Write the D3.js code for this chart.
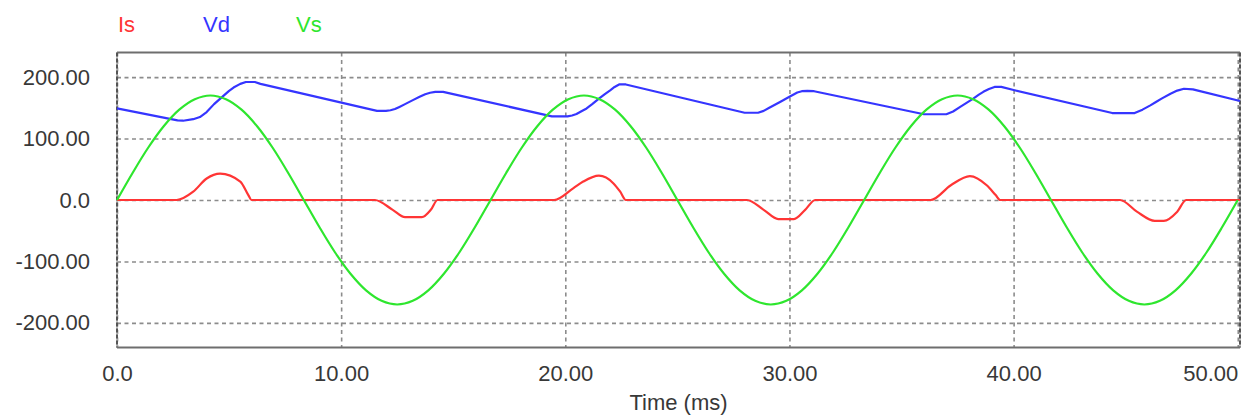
<!DOCTYPE html>
<html>
<head>
<meta charset="utf-8">
<script src="https://cdn.jsdelivr.net/npm/d3@7"></script>
<style>
    body { margin: 0; background: #fff; }
    text { font-family: "Liberation Sans", Arial, sans-serif; }
</style>
</head>
<body>
<div class="canvas"></div>
<script>
//##DATA START
const seriesNames = ['Is', 'Vd', 'Vs'];
const xTicks = [0, 10, 20, 30, 40, 50];
const xTickLabels = ['0.0', '10.00', '20.00', '30.00', '40.00', '50.00'];
const yTicks = [200, 100, 0, -100, -200];
const yTickLabels = ['200.00', '100.00', '0.0', '-100.00', '-200.00'];

// [time ms, value]
const isData = [
    [0, 0], [2.66, 0], [3.4, 13.5], [4.0, 35], [4.6, 43], [5.5, 30], [5.86, 8], [6.0, 0],
    [11.5, 0], [12.3, -16], [12.85, -28], [13.6, -28], [14.0, -16], [14.3, 0],
    [19.5, 0], [20.35, 19], [20.8, 30], [21.5, 39.5], [22.15, 27], [22.45, 13.5], [22.7, 0],
    [28.1, 0], [28.85, -16], [29.5, -31], [30.2, -31], [30.7, -16], [31.15, 0],
    [36.3, 0], [37.2, 24], [38.05, 39], [38.8, 24], [39.2, 8], [39.4, 0],
    [44.75, 0], [45.5, -19], [46.3, -34], [46.7, -34], [47.3, -19], [47.7, 0],
    [50.1, 0]
];

const vdData = [
    [0, 149], [2.7, 129.5], [2.95, 129], [3.4, 131.5], [3.7, 135], [4.0, 143], [4.33, 156],
    [4.67, 167], [5.0, 177.5], [5.2, 183], [5.5, 189], [5.75, 192], [6.15, 192], [6.4, 189],
    [11.6, 145], [12.0, 145], [12.2, 146], [12.4, 148], [12.6, 151.5], [12.85, 156], [13.2, 162.5],
    [13.5, 168], [13.75, 172], [13.97, 174.5], [14.2, 176], [14.55, 176],
    [19.4, 136], [20.1, 136], [20.3, 137.5], [20.5, 140], [20.7, 144], [20.95, 149], [21.2, 156],
    [21.5, 165], [21.75, 172], [22.0, 178.5], [22.2, 184], [22.4, 188], [22.7, 188],
    [28.0, 142], [28.6, 142], [28.85, 145], [29.1, 150], [29.35, 155], [29.6, 160], [30.0, 168],
    [30.35, 175], [30.55, 177], [30.8, 177.5], [31.1, 177],
    [36.0, 139.5], [37.0, 139.5], [37.3, 144], [37.6, 151], [37.9, 158], [38.2, 165], [38.45, 171.5],
    [38.65, 176], [38.9, 180.5], [39.15, 184], [39.45, 184], [40.0, 179],
    [44.4, 141.5], [45.4, 141.5], [45.75, 147], [46.1, 154], [46.35, 159.5], [46.6, 165],
    [47.0, 173], [47.3, 178], [47.6, 181], [48.0, 180],
    [50.1, 161]
];

// Vs sampled every 1/24 of a 60 Hz cycle
const vsStep = 0.69444;
const vsValues = [
    0, 44, 85, 120, 147, 164, 170, 164, 147, 120, 85, 44,
    0, -44, -85, -120, -147, -164, -170, -164, -147, -120, -85, -44,
    0, 44, 85, 120, 147, 164, 170, 164, 147, 120, 85, 44,
    0, -44, -85, -120, -147, -164, -170, -164, -147, -120, -85, -44,
    0, 44, 85, 120, 147, 164, 170, 164, 147, 120, 85, 44,
    0, -44, -85, -120, -147, -164, -170, -164, -147, -120, -85, -44,
    0
];
//##DATA END

const colors = { Is: '#ff3535', Vd: '#3535ff', Vs: '#2ee62e' };

let width = 1254, height = 420;
let padL = 117, padR = 1240, padT = 52.5, padB = 347.5;

const svg = d3.select('.canvas')
    .append('svg')
    .attr('width', width)
    .attr('height', height)
    ;

const xScale = d3.scaleLinear()
    .domain([0, 50.1])
    .range([padL, padR])
    ;

const yScale = d3.scaleLinear()
    .domain([-240, 240])
    .range([padB, padT])
    ;

// grid
svg.append('g')
    .attr('transform', `translate(0, ${padT})`)
    .call(d3.axisBottom(xScale).tickValues(xTicks).tickSize(padB - padT).tickFormat(''))
    .call(g => g.select('.domain').remove())
    .call(g => g.selectAll('line')
        .attr('stroke', '#8c8c8c')
        .attr('stroke-width', 1.6)
        .attr('stroke-dasharray', '4,3.5'))
    ;

svg.append('g')
    .attr('transform', `translate(${padL}, 0)`)
    .call(d3.axisRight(yScale).tickValues(yTicks).tickSize(padR - padL).tickFormat(''))
    .call(g => g.select('.domain').remove())
    .call(g => g.selectAll('line')
        .attr('stroke', '#8c8c8c')
        .attr('stroke-width', 1.6)
        .attr('stroke-dasharray', '4,3.5'))
    ;

// frame
svg.append('line').attr('x1', padL).attr('x2', padR).attr('y1', padT).attr('y2', padT)
    .attr('stroke', '#6e6e6e').attr('stroke-width', 2.2);
svg.append('line').attr('x1', padL).attr('x2', padR).attr('y1', padB).attr('y2', padB)
    .attr('stroke', '#6e6e6e').attr('stroke-width', 2.2);
[padL, padR].forEach(x => {
    svg.append('line').attr('x1', x).attr('x2', x).attr('y1', padT).attr('y2', padB)
        .attr('stroke', '#b0b0b0').attr('stroke-width', 1.5);
    svg.append('line').attr('x1', x).attr('x2', x).attr('y1', padT).attr('y2', padB)
        .attr('stroke', '#555').attr('stroke-width', 2).attr('stroke-dasharray', '4,2');
});

// axes labels
const xAxis = d3.axisBottom(xScale)
    .tickValues(xTicks)
    .tickSize(0)
    .tickPadding(17.5)
    .tickFormat((d, i) => xTickLabels[i]);

const yAxis = d3.axisLeft(yScale)
    .tickValues(yTicks)
    .tickSize(0)
    .tickPadding(27)
    .tickFormat((d, i) => yTickLabels[i]);

svg.append('g')
    .attr('transform', `translate(0, ${padB})`)
    .attr('id', 'x-axis')
    .call(xAxis)
    .call(g => g.select('.domain').remove())
    .call(g => g.selectAll('text')
        .attr('font-size', 22)
        .attr('fill', '#383838')
        .attr('text-anchor', (d, i) => i === xTicks.length - 1 ? 'end' : 'middle'))
    ;

svg.append('g')
    .attr('transform', `translate(${padL}, 0)`)
    .attr('id', 'y-axis')
    .call(yAxis)
    .call(g => g.select('.domain').remove())
    .call(g => g.selectAll('text')
        .attr('font-size', 22)
        .attr('fill', '#383838'))
    ;

svg.append('text')
    .attr('x', (padL + padR) / 2)
    .attr('y', 410)
    .attr('text-anchor', 'middle')
    .attr('font-size', 22)
    .attr('fill', '#383838')
    .text('Time (ms)');

// legend
const legendX = [118, 203, 296];
svg.selectAll('.legend')
    .data(seriesNames)
    .enter()
    .append('text')
    .attr('class', 'legend')
    .attr('x', (d, i) => legendX[i])
    .attr('y', 32)
    .attr('font-size', 22)
    .attr('fill', d => colors[d])
    .text(d => d);

// waveforms
const lineSmooth = d3.line()
    .x(d => xScale(d[0]))
    .y(d => yScale(d[1]))
    .curve(d3.curveMonotoneX);

const lineStraight = d3.line()
    .x(d => xScale(d[0]))
    .y(d => yScale(d[1]));

const lineSine = d3.line()
    .x(d => xScale(d[0]))
    .y(d => yScale(d[1]))
    .curve(d3.curveCatmullRom);

const vsData = vsValues.map((v, i) => [i * vsStep, v]);

const plot = svg.append('g');

plot.append('path')
    .datum(isData)
    .attr('fill', 'none')
    .attr('stroke', colors.Is)
    .attr('stroke-width', 2.2)
    .attr('d', lineSmooth);

plot.append('path')
    .datum(vdData)
    .attr('fill', 'none')
    .attr('stroke', colors.Vd)
    .attr('stroke-width', 2.2)
    .attr('stroke-linejoin', 'round')
    .attr('d', lineStraight);

plot.append('path')
    .datum(vsData)
    .attr('fill', 'none')
    .attr('stroke', colors.Vs)
    .attr('stroke-width', 2.2)
    .attr('d', lineSine);
</script>
</body>
</html>
